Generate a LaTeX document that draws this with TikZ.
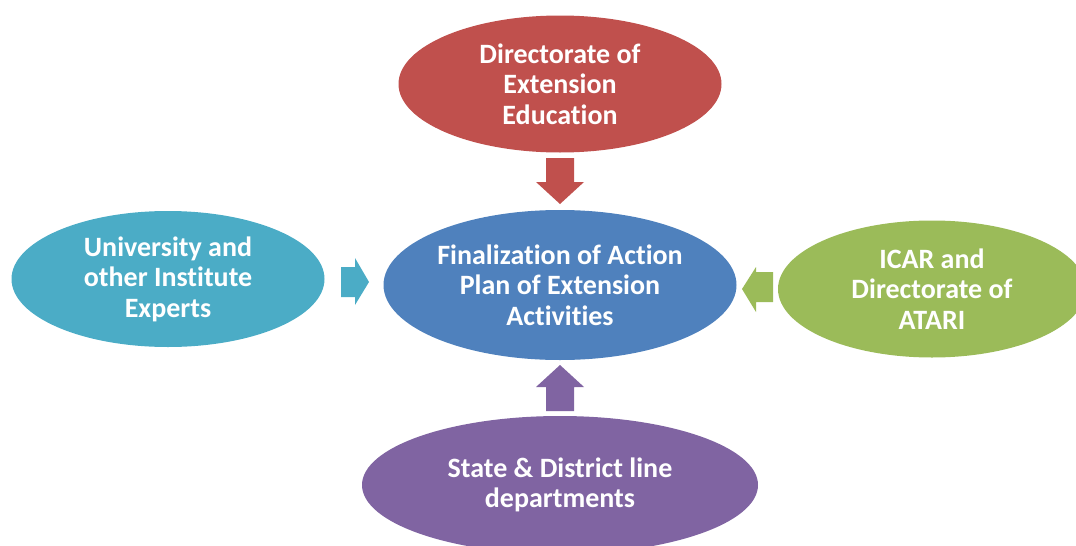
\documentclass[tikz,border=0pt]{standalone}
\usepackage{fontspec}
\setmainfont[Ligatures=NoCommon]{Carlito}
\usetikzlibrary{shapes.geometric}
\definecolor{cred}{HTML}{C0504D}
\definecolor{cblue}{HTML}{4F81BD}
\definecolor{cteal}{HTML}{4BACC6}
\definecolor{cgreen}{HTML}{9BBB59}
\definecolor{cpurple}{HTML}{8064A2}
\tikzset{
  blob/.style={ellipse, inner sep=0pt, text=white, align=center,
    font=\fontsize{28}{30.5}\selectfont\bfseries},
  blockarrow/.style={draw=none}
}
\begin{document}
\begin{tikzpicture}[x=1pt,y=-1pt]
\useasboundingbox (0,0) rectangle (1076,546);
\clip (0,0) rectangle (1076,546);
\node[blob, fill=cred, minimum width=323pt, minimum height=137pt] (top) at (560,84) {Directorate of\\Extension\\Education};
\node[blob, fill=cblue, minimum width=353pt, minimum height=150pt] (mid) at (560,285) {Finalization of Action\\Plan of Extension\\Activities};
\node[blob, fill=cteal, minimum width=313pt, minimum height=136pt] (left) at (168,279) {University and\\other Institute\\Experts};
\node[blob, fill=cgreen, minimum width=308pt, minimum height=137pt] (right) at (932,289) {ICAR and\\Directorate of\\ATARI};
\node[blob, fill=cpurple, minimum width=396pt, minimum height=138pt] (bot) at (560,485) {State \& District line\\departments};
% block arrows
\fill[cred, blockarrow] (546,158) -- (574,158) -- (574,182) -- (584,182) -- (560,204) -- (536,182) -- (546,182) -- cycle;
\fill[cpurple, blockarrow] (546,411) -- (574,411) -- (574,387) -- (584,387) -- (560,365) -- (536,387) -- (546,387) -- cycle;
\fill[cteal, blockarrow] (341,267) -- (355,267) -- (355,258) -- (369,282) -- (355,305) -- (355,297) -- (341,297) -- cycle;
\fill[cgreen, blockarrow] (773,272) -- (756,272) -- (756,267) -- (742,289) -- (756,312) -- (756,302) -- (773,302) -- cycle;
\end{tikzpicture}
\end{document}
